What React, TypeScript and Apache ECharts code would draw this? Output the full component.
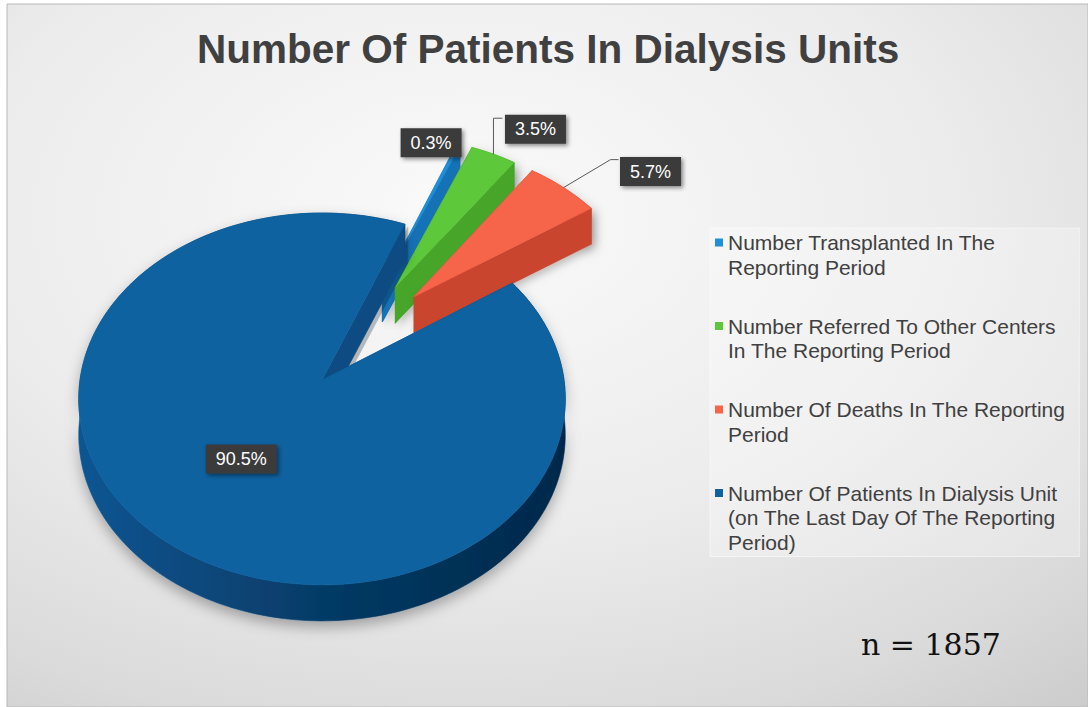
import React, { useEffect, useRef } from 'react';
import * as echarts from 'echarts';

// ---------- data ----------
const sliceNames = [
  'Number Transplanted In The Reporting Period',
  'Number Referred To Other Centers In The Reporting Period',
  'Number Of Deaths In The Reporting Period',
  'Number Of Patients In Dialysis Unit (on The Last Day Of The Reporting Period)',
];
const legendLines = [
  ['Number Transplanted In The', 'Reporting Period'],
  ['Number Referred To Other Centers', 'In The Reporting Period'],
  ['Number Of Deaths In The Reporting', 'Period'],
  ['Number Of Patients In Dialysis Unit', '(on The Last Day Of The Reporting', 'Period)'],
];
const sharePercent = [0.3, 3.5, 5.7, 90.5];
const sampleSize = 1857;
const chartTitle = 'Number Of Patients In Dialysis Units';

// ---------- styles ----------
const topColors = ['#1F8FD8', '#5CC83A', '#F6644A', '#0E62A0'];
const endWallColors = ['#1672B6', '#46A52C', '#C9452F', '#0A4C82'];
const rimWallColors = ['#1568A8', '#3F9C27', '#BC3F2A', '#06406C'];
// explosion distance (fraction of radius) and direction (degrees clockwise from 12 o'clock)
const explodeBy = [0.6, 0.62, 0.62, 0];
const explodeDir = [26, 31, 40, 0];
const PIE = { cx: 322, cy: 380, rx: 242, ry: 184, persp: 0.102, depth: 36, firstAngle: 22 };
const labelPlacement = [
  { r: 1, dx: -27, dy: -3, leader: [] as number[][] },
  { r: 1, dx: 42, dy: -25, leader: [[0, -36], [9, -36]] },
  { r: 1, dx: 87, dy: -16, leader: [[47, -28], [55, -28]] },
  { r: 0.55, dx: 7, dy: -3, leader: [] as number[][] },
];
const FONT = "'Liberation Sans', Arial, sans-serif";

function sliceRenderer(idx: number) {
  return (_params: any, api: any) => {
    const total = sharePercent.reduce((s, v) => s + v, 0);
    const before = sharePercent.slice(0, idx).reduce((s, v) => s + v, 0);
    const value = api.value(0) as number;
    const a0 = PIE.firstAngle + (before / total) * 360;
    const a1 = a0 + (value / total) * 360;
    const am = (a0 + a1) / 2;
    const rad = Math.PI / 180;
    const eu = explodeBy[idx] * Math.sin(explodeDir[idx] * rad);
    const ev = explodeBy[idx] * Math.cos(explodeDir[idx] * rad);
    const pt = (a: number, r: number, z: number): number[] => {
      const u = eu + r * Math.sin(a * rad);
      const v = ev + r * Math.cos(a * rad);
      const w = 1 + PIE.persp * v;
      return [PIE.cx + (PIE.rx * u) / w, PIE.cy - (PIE.ry * v) / w + z * PIE.depth];
    };
    const steps = Math.max(2, Math.ceil((a1 - a0) / 1.5));
    const topArc: number[][] = [];
    const botArc: number[][] = [];
    for (let s = 0; s <= steps; s++) {
      const a = a0 + ((a1 - a0) * s) / steps;
      topArc.push(pt(a, 1, 0));
      botArc.push(pt(a, 1, 1));
    }
    const cTop = pt(am, 0, 0);
    const cBot = pt(am, 0, 1);
    const p0t = topArc[0];
    const p0b = botArc[0];
    const p1t = topArc[steps];
    const p1b = botArc[steps];
    const rimFill =
      idx === 3
        ? new echarts.graphic.LinearGradient(0, 0, 1, 0, [
            { offset: 0, color: '#0B5592' },
            { offset: 0.5, color: '#063B66' },
            { offset: 1, color: '#03284A' },
          ])
        : rimWallColors[idx];
    const children: any[] = [
      {
        type: 'polygon',
        shape: { points: topArc.concat(botArc.slice().reverse()) },
        style: {
          fill: rimFill,
          stroke: rimFill,
          lineWidth: 0.6,
          shadowBlur: 14,
          shadowColor: 'rgba(0,0,0,0.3)',
          shadowOffsetY: 6,
        },
      },
      {
        type: 'polygon',
        shape: { points: [cTop, p0t, p0b, cBot] },
        style: { fill: endWallColors[idx], stroke: endWallColors[idx], lineWidth: 0.6 },
      },
      {
        type: 'polygon',
        shape: { points: [cTop, p1t, p1b, cBot] },
        style: {
          fill: endWallColors[idx],
          stroke: endWallColors[idx],
          lineWidth: 0.6,
          shadowBlur: idx === 3 ? 0 : 8,
          shadowColor: 'rgba(0,0,0,0.25)',
          shadowOffsetX: 3,
          shadowOffsetY: 3,
        },
      },
      {
        type: 'polygon',
        shape: { points: [cTop].concat(topArc) },
        style: { fill: topColors[idx], stroke: topColors[idx], lineWidth: 0.6 },
      },
    ];
    const lp = labelPlacement[idx];
    const anchor = pt(am, lp.r, 0);
    if (lp.leader.length) {
      children.push({
        type: 'polyline',
        z2: 90,
        shape: {
          points: [anchor].concat(lp.leader.map((d) => [anchor[0] + d[0], anchor[1] + d[1]])),
        },
        style: { stroke: '#5a5a5a', lineWidth: 1, fill: null },
      });
    }
    children.push({
      type: 'text',
      z2: 100,
      x: anchor[0] + lp.dx,
      y: anchor[1] + lp.dy,
      style: {
        text: `${value.toFixed(1)}%`,
        fill: '#ffffff',
        fontSize: 18,
        fontFamily: FONT,
        align: 'center',
        verticalAlign: 'middle',
        backgroundColor: '#3b3b3b',
        padding: [6, 10, 5, 10],
        shadowBlur: 4,
        shadowColor: 'rgba(0,0,0,0.45)',
        shadowOffsetX: 2,
        shadowOffsetY: 2,
      },
    });
    return { type: 'group', children };
  };
}

export default function App() {
  const ref = useRef<HTMLDivElement>(null);
  useEffect(() => {
    document.body.style.margin = '0';
    const chart = echarts.init(ref.current as HTMLDivElement, undefined, { renderer: 'svg' });
    const rich: Record<string, any> = {
      gap: { width: 5 },
      ind: { width: 13 },
      t: { fontSize: 21, color: '#404040', fontFamily: FONT, lineHeight: 24.5 },
    };
    topColors.forEach((c, i) => {
      rich['sq' + i] = { width: 8, height: 8, backgroundColor: c, verticalAlign: 'middle' };
    });
    chart.setOption({
      animation: false,
      backgroundColor: '#ffffff',
      graphic: [
        {
          type: 'rect',
          z: -10,
          silent: true,
          shape: { x: 7, y: 4, width: 1081, height: 703 },
          style: {
            fill: new echarts.graphic.RadialGradient(0.42, 0.3, 1.0, [
              { offset: 0, color: '#fafafa' },
              { offset: 0.45, color: '#ececec' },
              { offset: 0.75, color: '#dadada' },
              { offset: 1, color: '#c4c4c4' },
            ]),
            stroke: '#b8b8b8',
            lineWidth: 1,
          },
        },
      ],
      title: [
        {
          text: chartTitle,
          left: 192,
          top: 23,
          textStyle: { fontSize: 40.5, fontWeight: 'bold', color: '#404040', fontFamily: FONT },
        },
        {
          text: `n = ${sampleSize}`,
          left: 856,
          top: 624,
          textStyle: { fontSize: 30, fontWeight: 'normal', color: '#111111', fontFamily: "'DejaVu Serif', serif" },
        },
      ],
      legend: {
        orient: 'vertical',
        left: 710,
        top: 228,
        icon: 'none',
        itemWidth: 0,
        itemHeight: 8,
        itemGap: 38,
        padding: [4, 14, 4, 0],
        backgroundColor: 'rgba(255,255,255,0.28)',
        borderColor: 'rgba(255,255,255,0.5)',
        borderWidth: 1,
        selectedMode: false,
        data: sliceNames,
        formatter: (name: string) => {
          const i = sliceNames.indexOf(name);
          return legendLines[i]
            .map((line, j) => (j === 0 ? `{sq${i}|}{gap|}{t|${line}}` : `{ind|}{t|${line}}`))
            .join('\n');
        },
        textStyle: { rich },
      },
      series: sliceNames.map((name, i) => ({
        type: 'custom',
        name,
        coordinateSystem: 'none',
        silent: true,
        renderItem: sliceRenderer(i),
        itemStyle: { color: topColors[i] },
        data: [[sharePercent[i]]],
      })),
    });
    return () => chart.dispose();
  }, []);
  return <div ref={ref} style={{ width: 1088, height: 707 }} />;
}
